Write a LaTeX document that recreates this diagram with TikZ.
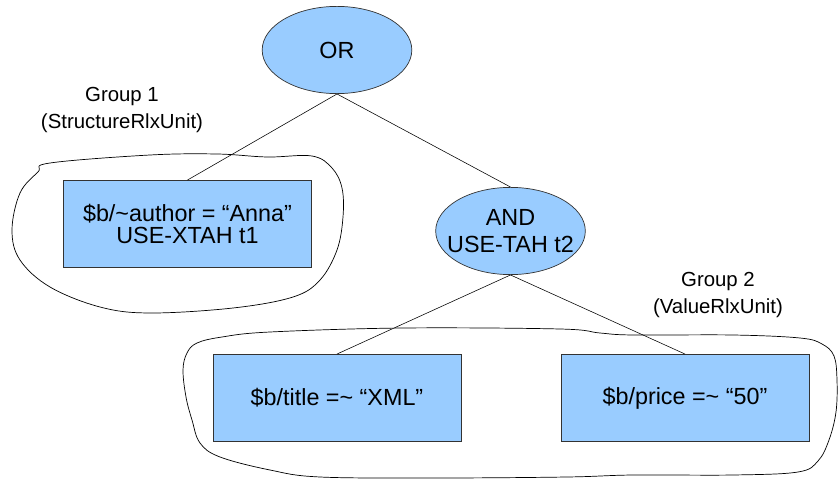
\documentclass[tikz,border=0pt]{standalone}
\usepackage{fontspec}
\setmainfont{Liberation Sans}
\usetikzlibrary{shapes.geometric}
\definecolor{bleuclair}{RGB}{153,204,255}
\begin{document}
\begin{tikzpicture}[x=0.025cm,y=-0.025cm]
\tikzstyle{boite} = [draw=black!80,fill=bleuclair,line width=0.5pt,minimum width=6.2cm,minimum height=2.18cm,align=center,font=\fontsize{16.6}{16}\selectfont]
\tikzstyle{ovale} = [ellipse,draw=black!80,fill=bleuclair,line width=0.5pt,minimum width=3.74cm,minimum height=2.18cm,inner xsep=-0.5cm,inner ysep=0pt,align=center,font=\fontsize{16.6}{19}\selectfont]
\tikzstyle{groupe} = [align=center,font=\fontsize{14.5}{19}\selectfont]
\useasboundingbox (0,0) rectangle (838,480);

%contours des groupes
\draw[line width=0.5pt] plot[smooth cycle,tension=0.6] coordinates {(50,163) (150,155) (217,154) (267,157) (312,156) (332,168) (342,188) (343,217) (337,250) (320,280) (293,297) (233,308) (150,313) (100,307) (50,287) (20,260) (12,230) (20,193) (38,172)};
\draw[line width=0.5pt] plot[smooth cycle,tension=0.6] coordinates {(197,343) (222,337) (270,332) (403,328) (560,329) (600,333) (633,335) (733,335) (800,338) (822,344) (834,356) (837,380) (836,412) (829,440) (818,461) (798,472) (733,475) (633,475) (567,477) (437,478) (320,477) (270,470) (220,457) (200,443) (192,420) (186,397) (183,370) (187,353)};

%noeuds
\node[ovale] (ou) at (337,50) {OR};
\node[ovale] (et) at (510.5,231) {AND\\USE-TAH t2};
\node[boite] (auteur) at (187.5,224) {\$b/\textasciitilde author = “Anna”\\USE-XTAH t1};
\node[boite] (titre) at (337,398) {\$b/title =\textasciitilde{} “XML”};
\node[boite] (prix) at (685,398) {\$b/price =\textasciitilde{} “50”};
\node[groupe] (g1) at (122,110) {Group 1\\(StructureRlxUnit)};
\node[groupe] (g2) at (718,295) {Group 2\\(ValueRlxUnit)};

%aretes
\draw (ou.south)--(auteur.north);
\draw (ou.south)--(et.north);
\draw (et.south)--(titre.north);
\draw (et.south)--(prix.north);
\end{tikzpicture}
\end{document}
